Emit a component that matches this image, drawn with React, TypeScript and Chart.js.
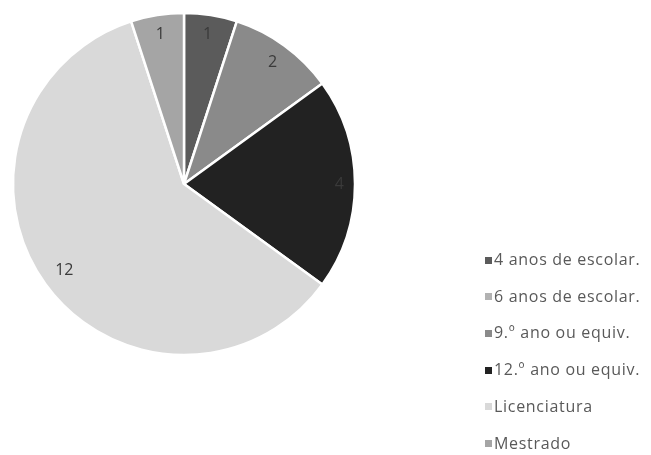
import React, { useEffect, useRef } from "react";
import { Chart, registerables } from "chart.js";

Chart.register(...registerables);

const categories = [
  "4 anos de escolar.",
  "6 anos de escolar.",
  "9.º ano ou equiv.",
  "12.º ano ou equiv.",
  "Licenciatura",
  "Mestrado",
];
const counts = [1, 0, 2, 4, 12, 1];
const sliceColors = ["#5b5b5b", "#b2b2b2", "#8a8a8a", "#222222", "#d9d9d9", "#a5a5a5"];

const FONT = "'Open Sans', 'DejaVu Sans', sans-serif";

const labelPlugin = {
  id: "sliceLabels",
  afterDatasetsDraw(chart: any) {
    const ctx = chart.ctx;
    const meta = chart.getDatasetMeta(0);
    const values = chart.data.datasets[0].data as number[];
    ctx.save();
    ctx.font = `16px ${FONT}`;
    ctx.fillStyle = "#3a3a3a";
    ctx.textAlign = "center";
    ctx.textBaseline = "middle";
    meta.data.forEach((arc: any, i: number) => {
      const v = values[i];
      if (!v) return;
      const { x, y, startAngle, endAngle, outerRadius } = arc.getProps(
        ["x", "y", "startAngle", "endAngle", "outerRadius"],
        true
      );
      const mid = (startAngle + endAngle) / 2;
      const text = String(v);
      const w = ctx.measureText(text).width;
      const h = 16;
      const ext = Math.abs(Math.cos(mid)) * w / 2 + Math.abs(Math.sin(mid)) * h / 2;
      const d = outerRadius - 11 - ext;
      ctx.fillText(text, x + Math.cos(mid) * d, y + Math.sin(mid) * d);
    });
    ctx.restore();
  },
};

const legendPlugin = {
  id: "sideLegend",
  afterDraw(chart: any) {
    const ctx = chart.ctx;
    const labels = chart.data.labels as string[];
    const colors = chart.data.datasets[0].backgroundColor as string[];
    ctx.save();
    ctx.font = `16px ${FONT}`;
    (ctx as any).letterSpacing = "0.7px";
    ctx.textAlign = "left";
    ctx.textBaseline = "middle";
    const x0 = 485;
    const y0 = 260;
    const step = 36.7;
    labels.forEach((lab, i) => {
      const cy = y0 + i * step;
      ctx.fillStyle = colors[i];
      ctx.fillRect(x0, Math.round(cy - 3.5), 7, 7);
      ctx.fillStyle = "#595959";
      ctx.fillText(lab, x0 + 9, cy + 0.5);
    });
    ctx.restore();
  },
};

export default function App() {
  const ref = useRef<HTMLCanvasElement | null>(null);
  useEffect(() => {
    if (!ref.current) return;
    const chart = new Chart(ref.current, {
      type: "pie",
      data: {
        labels: categories,
        datasets: [
          {
            data: counts,
            backgroundColor: sliceColors,
            borderColor: "#ffffff",
            borderWidth: 2.5,
          },
        ],
      },
      options: {
        responsive: false,
        animation: false,
        radius: 171,
        layout: { padding: { left: 0, top: 0, right: 283, bottom: 87 } },
        plugins: {
          legend: { display: false },
          tooltip: { enabled: false },
          title: { display: false },
        },
      } as any,
      plugins: [labelPlugin, legendPlugin],
    });
    return () => chart.destroy();
  }, []);
  return (
    <div style={{ position: "absolute", left: 0, top: 0, width: 651, height: 455, background: "#fff" }}>
      <canvas ref={ref} width={651} height={455} style={{ width: 651, height: 455 }} />
    </div>
  );
}
